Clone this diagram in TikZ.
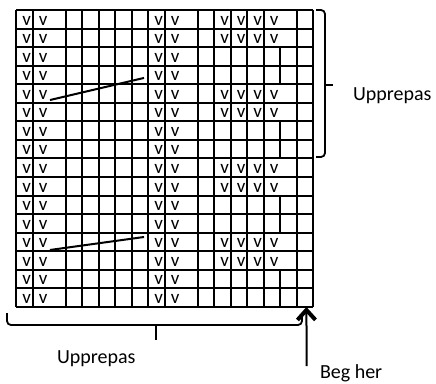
\documentclass[tikz,border=0pt]{standalone}
\usepackage{fontspec}
\setmainfont{Carlito}
\usetikzlibrary{arrows.meta}
\begin{document}
\begin{tikzpicture}[x=1pt, y=-1pt, line width=2pt,
  stitch/.style={font=\fontsize{19}{19}\selectfont, inner sep=0pt, anchor=base},
  caption/.style={font=\fontsize{20}{22}\selectfont, inner sep=0pt, anchor=base west},
  bracket/.style={line width=1.8pt, rounded corners=4pt}]
\useasboundingbox (0,0) rectangle (436,383);
% chart: 18 units wide, 16 rows
\begin{scope}[shift={(16,10)}, x=16.5pt, y=-18.56pt]
\foreach \r in {0,...,16}
  \draw (0,\r) -- (18,\r);
\foreach \c in {0,1,3,4,5,6,7,8,9,11,12,13,14,15,17,18}
  \draw (\c,0) -- (\c,16);
\foreach \r in {2,6,10,14}
  \draw (16,\r) -- (16,\r+2);
% stitches
\foreach \r in {1,...,16}
  \foreach \c in {0,1,8,9}
    \node[stitch] (v-\r-\c) at (\c+0.64,\r-0.19) {v};
\foreach \r in {1,2,5,6,9,10,13,14}
  \foreach \c in {12,...,15}
    \node[stitch] (v-\r-\c) at (\c+0.64,\r-0.19) {v};
\draw (2.06,4.85) -- (7.76,3.66);
\draw (2.06,12.93) -- (7.76,12.23);
\coordinate (corner) at (17.6,16);
\end{scope}
% repeats
\draw[bracket] (316,10) -- (325,10) -- (325,157) -- (316,157);
\draw[bracket] (325,85) -- (333,85);
\draw[bracket] (7,313) -- (7,325) -- (302,325) -- (302,313);
\draw[bracket] (156,325) -- (156,340);
\node[caption] (rep-right) at (352,100) {Upprepas};
\node[caption] (rep-below) at (56,363) {Upprepas};
\node[caption] (start) at (319,378) {Beg her};
\coordinate (tail) at (306.7,366);
\draw[line width=2pt, -{Straight Barb[length=10pt,width=18pt,line width=4pt]}] (tail) -- (corner);
\end{tikzpicture}
\end{document}
